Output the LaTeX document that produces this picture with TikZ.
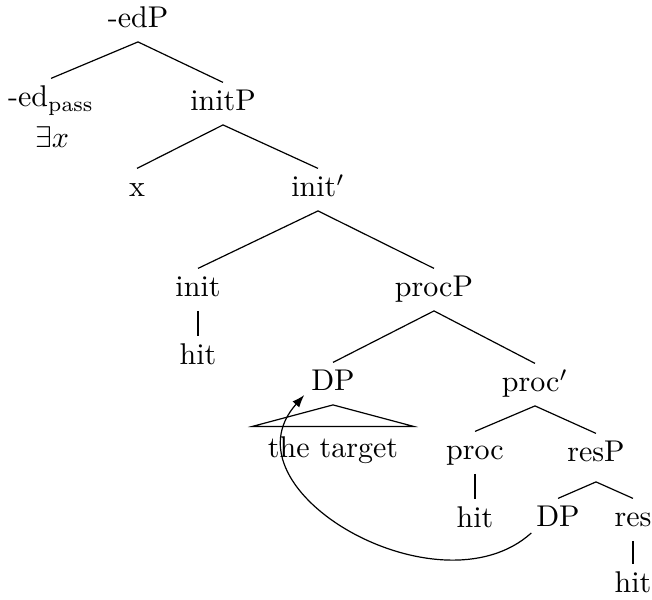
\documentclass[tikz,border=0pt]{standalone}
\usetikzlibrary{arrows.meta}
\begin{document}
\begin{tikzpicture}[x=0.3333pt, y=-0.3333pt,
  tn/.style={anchor=base, inner xsep=0.8pt, inner ysep=2.5pt,
    text height=6.83pt, text depth=1.94pt},
  edge/.style={line width=0.4pt},
  move/.style={line width=0.4pt, -{Latex[length=4.2pt,width=3pt]}}]
\useasboundingbox (0,0) rectangle (652,600);

% nodes (x, baseline)
\node[tn] (edP)    at (138,28)  {-edP};
\node[tn] (edpass) at (51,107)  {-ed$_{\mathrm{pass}}$};
\node[tn] (exists) at (52,148)  {$\exists x$};
\node[tn] (initP)  at (223,111) {initP};
\node[tn] (xx)     at (137,197) {x};
\node[tn] (initbar) at (318,197) {init$'$};
\node[tn] (init)   at (198,297) {init};
\node[tn] (hitA)   at (198,365) {hit};
\node[tn] (procP)  at (434,297) {procP};
\node[tn] (DPa)    at (333,391) {DP};
\node[tn, inner ysep=3.5pt, minimum width=53.3pt] (target) at (333,458) {the target};
\node[tn] (procbar) at (535,392) {proc$'$};
\node[tn] (proc)   at (475,460) {proc};
\node[tn] (hitB)   at (475,528) {hit};
\node[tn] (resP)   at (596,462) {resP};
\node[tn] (DPb)    at (558,527) {DP};
\node[tn] (res)    at (633,527) {res};
\node[tn] (hitC)   at (633,593) {hit};

% branches
\draw[edge] (edP.south) -- (edpass.north);
\draw[edge] (edP.south) -- (initP.north);
\draw[edge] (initP.south) -- (xx.north);
\draw[edge] (initP.south) -- (initbar.north);
\draw[edge] (initbar.south) -- (init.north);
\draw[edge] (initbar.south) -- (procP.north);
\draw[edge] (init.south) -- (hitA.north);
\draw[edge] (procP.south) -- (DPa.north);
\draw[edge] (procP.south) -- (procbar.north);
\draw[edge] (DPa.south) -- (target.north east) -- (target.north west) -- cycle;
\draw[edge] (procbar.south) -- (proc.north);
\draw[edge] (procbar.south) -- (resP.north);
\draw[edge] (proc.south) -- (hitB.north);
\draw[edge] ([yshift=-2pt]resP.south) -- (DPb.north);
\draw[edge] ([yshift=-2pt]resP.south) -- (res.north);
\draw[edge] (res.south) -- (hitC.north);

% movement arrow
\draw[move] ([xshift=-0.67pt,yshift=-2pt]DPb.base west)
  .. controls +(-92,83) and +(-85,95) ..
  ([xshift=-1.33pt,yshift=-1.33pt]DPa.base west);
\end{tikzpicture}
\end{document}
